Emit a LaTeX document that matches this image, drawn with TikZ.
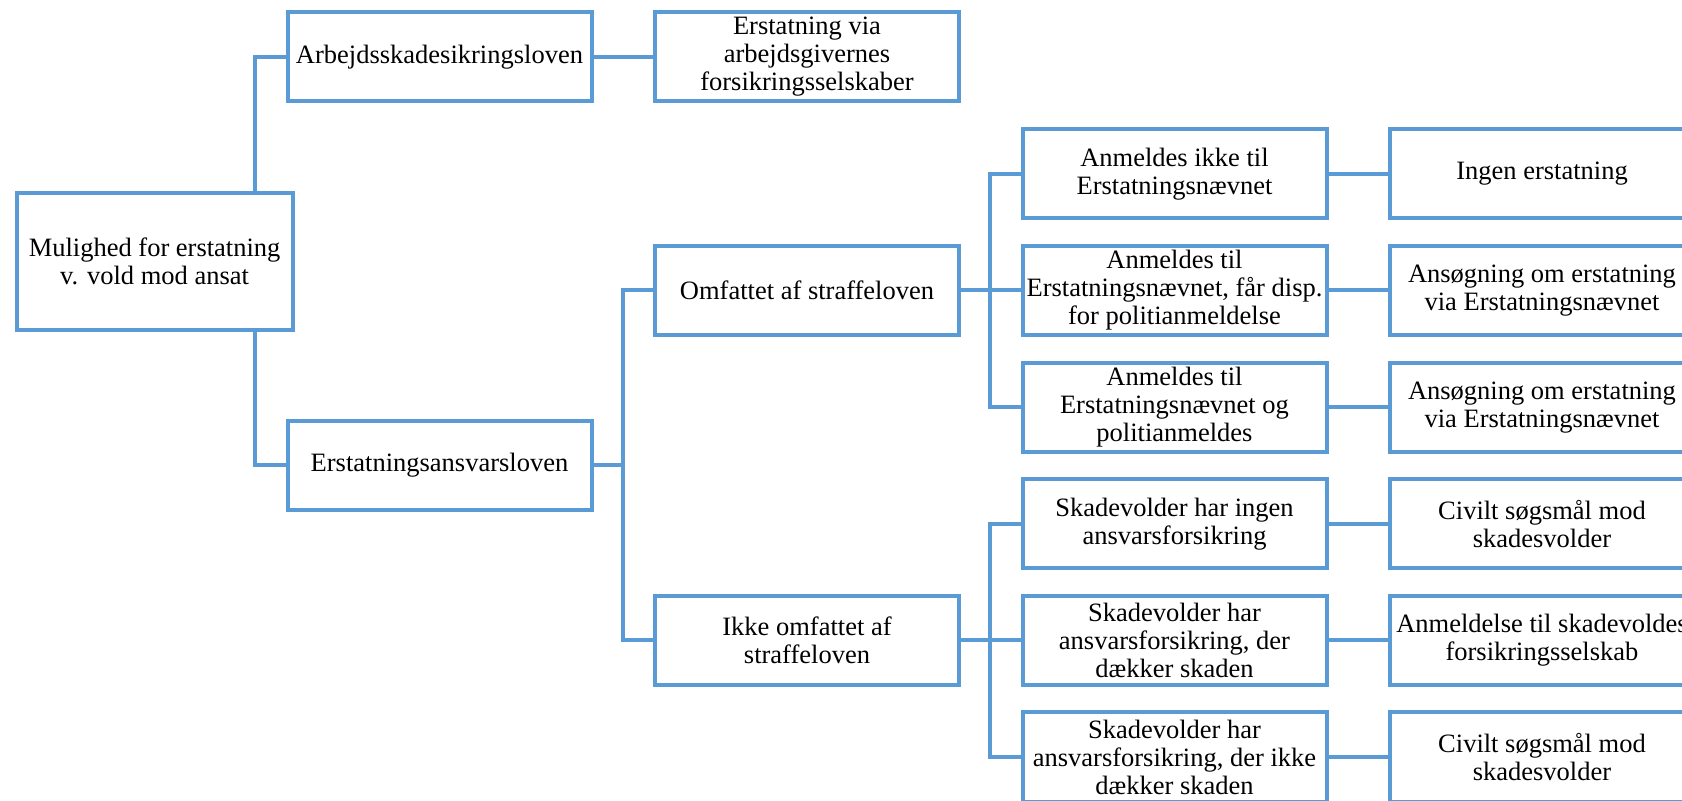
\documentclass[tikz,border=0pt]{standalone}
\usepackage{fontspec}
\setmainfont{Liberation Serif}
\definecolor{boxblue}{RGB}{91,155,213}
\begin{document}
\begin{tikzpicture}[x=0.5pt,y=-0.5pt,
  box/.style={draw=boxblue, line width=2pt, rectangle, minimum width=152pt, minimum height=44.5pt,
    align=center, inner sep=1pt, font=\fontsize{13.25}{14}\selectfont, text=black},
  conn/.style={draw=boxblue, line width=2pt}]
\useasboundingbox (0,0) rectangle (1682,801);
\clip (0,0) rectangle (1682,801);
% root
\node[box, minimum width=138pt, minimum height=68.5pt] (root) at (154.6,261.5) {Mulighed for erstatning\\v. vold mod ansat};
% level 1
\node[box] (arb) at (439.5,57) {Arbejdsskadesikringsloven};
\node[box] (era) at (439.5,465.5) {Erstatningsansvarsloven};
% level 2
\node[box] (erv) at (807,57) {Erstatning via\\arbejdsgivernes\\forsikringsselskaber};
\node[box] (omf) at (807,290.5) {Omfattet af straffeloven};
\node[box] (ikke) at (807,640.5) {Ikke omfattet af\\straffeloven};
% level 3
\node[box] (a1) at (1174.5,174) {Anmeldes ikke til\\Erstatningsnævnet};
\node[box] (a2) at (1174.5,290.5) {Anmeldes til\\Erstatningsnævnet, får disp.\\for politianmeldelse};
\node[box] (a3) at (1174.5,407.5) {Anmeldes til\\Erstatningsnævnet og\\politianmeldes};
\node[box] (s1) at (1174.5,524) {Skadevolder har ingen\\ansvarsforsikring};
\node[box] (s2) at (1174.5,640.5) {Skadevolder har\\ansvarsforsikring, der\\dækker skaden};
\node[box] (s3) at (1174.5,757) {Skadevolder har\\ansvarsforsikring, der ikke\\dækker skaden};
% level 4
\node[box] (r1) at (1542,174) {Ingen erstatning};
\node[box] (r2) at (1542,290.5) {Ansøgning om erstatning\\via Erstatningsnævnet};
\node[box] (r3) at (1542,407.5) {Ansøgning om erstatning\\via Erstatningsnævnet};
\node[box] (r4) at (1542,524) {Civilt søgsmål mod\\skadesvolder};
\node[box] (r5) at (1542,640.5) {Anmeldelse til skadevoldes\\forsikringsselskab};
\node[box] (r6) at (1542,757) {Civilt søgsmål mod\\skadesvolder};
% bus coordinates
\coordinate (b0) at (255,0);
\coordinate (b1) at (623,0);
\coordinate (b2) at (990,0);
% connectors
\draw[conn] (root.north -| b0) |- (arb.west);
\draw[conn] (root.south -| b0) |- (era.west);
\draw[conn] (arb.east) -- (erv.west);
\draw[conn] (era.east) -- (era.east -| b1);
\draw[conn] (omf.west) -- (omf.west -| b1) |- (ikke.west);
\draw[conn] (omf.east) -- (a2.west);
\draw[conn] (a1.west) -- (a1.west -| b2) |- (a3.west);
\draw[conn] (ikke.east) -- (s2.west);
\draw[conn] (s1.west) -- (s1.west -| b2) |- (s3.west);
\draw[conn] (a1.east) -- (r1.west);
\draw[conn] (a2.east) -- (r2.west);
\draw[conn] (a3.east) -- (r3.west);
\draw[conn] (s1.east) -- (r4.west);
\draw[conn] (s2.east) -- (r5.west);
\draw[conn] (s3.east) -- (r6.west);
\end{tikzpicture}
\end{document}
